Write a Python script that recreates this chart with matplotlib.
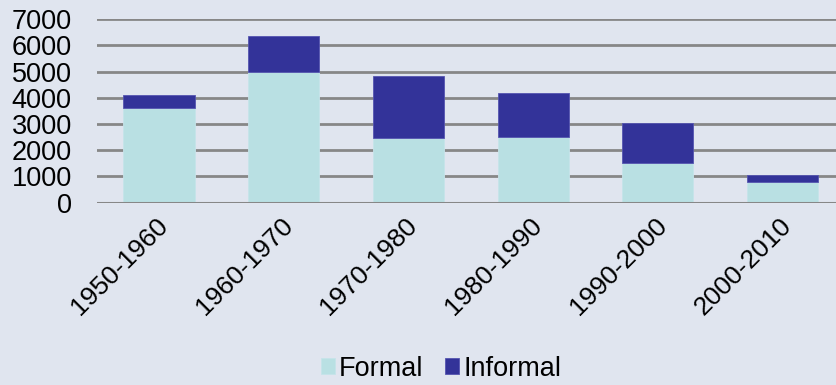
import matplotlib.pyplot as plt
import matplotlib.transforms as mtransforms
import numpy as np

# decades and stacked values
periods = ["1950-1960", "1960-1970", "1970-1980", "1980-1990", "1990-2000", "2000-2010"]
formal = [3620, 4980, 2450, 2510, 1500, 800]
informal = [480, 1370, 2380, 1660, 1520, 260]

plt.rcParams['font.family'] = ['Liberation Sans', 'DejaVu Sans']

bg = "#e0e5ef"
fig = plt.figure(figsize=(8.37, 3.85), dpi=100, facecolor=bg)
ax = fig.add_axes([0.1155, 0.4735, 0.894, 0.477])
ax.set_facecolor(bg)

x = np.arange(len(periods))
ax.bar(x, formal, width=0.57, color="#b9e0e3", edgecolor="#c6e4ea", linewidth=0.6, label="Formal", zorder=3)
ax.bar(x, informal, width=0.57, bottom=formal, color="#333399", edgecolor="#5555b0", linewidth=0.6, label="Informal", zorder=3)

# horizontal grid
ax.set_ylim(0, 7000)
ax.set_xlim(-0.5, len(periods) - 0.5)
ax.set_yticks(range(0, 7001, 1000))
ax.yaxis.grid(True, color="#878787", linewidth=2, zorder=0)
for s in ["top", "right", "left", "bottom"]:
    ax.spines[s].set_visible(False)
ax.axhline(0, color="#878787", linewidth=2.2, zorder=4)

ax.tick_params(axis="y", length=0, pad=18, labelsize=19.5)
ax.tick_params(axis="x", length=0, pad=14, labelsize=19)
ax.set_xticks(x)
ax.set_xticklabels(periods, rotation=45, ha="right", va="center", rotation_mode="anchor")
# nudge rotated labels a little to the right
shift = mtransforms.ScaledTranslation(0.05, 0, fig.dpi_scale_trans)
for lbl in ax.get_xticklabels():
    lbl.set_transform(lbl.get_transform() + shift)

fig.legend(loc="center", bbox_to_anchor=(0.527, 0.042), ncol=2, frameon=False, fontsize=19.5,
           handlelength=0.52, handleheight=0.52, handletextpad=0.15, columnspacing=0.8)

fig.savefig("out.png", dpi=100, facecolor=bg)
